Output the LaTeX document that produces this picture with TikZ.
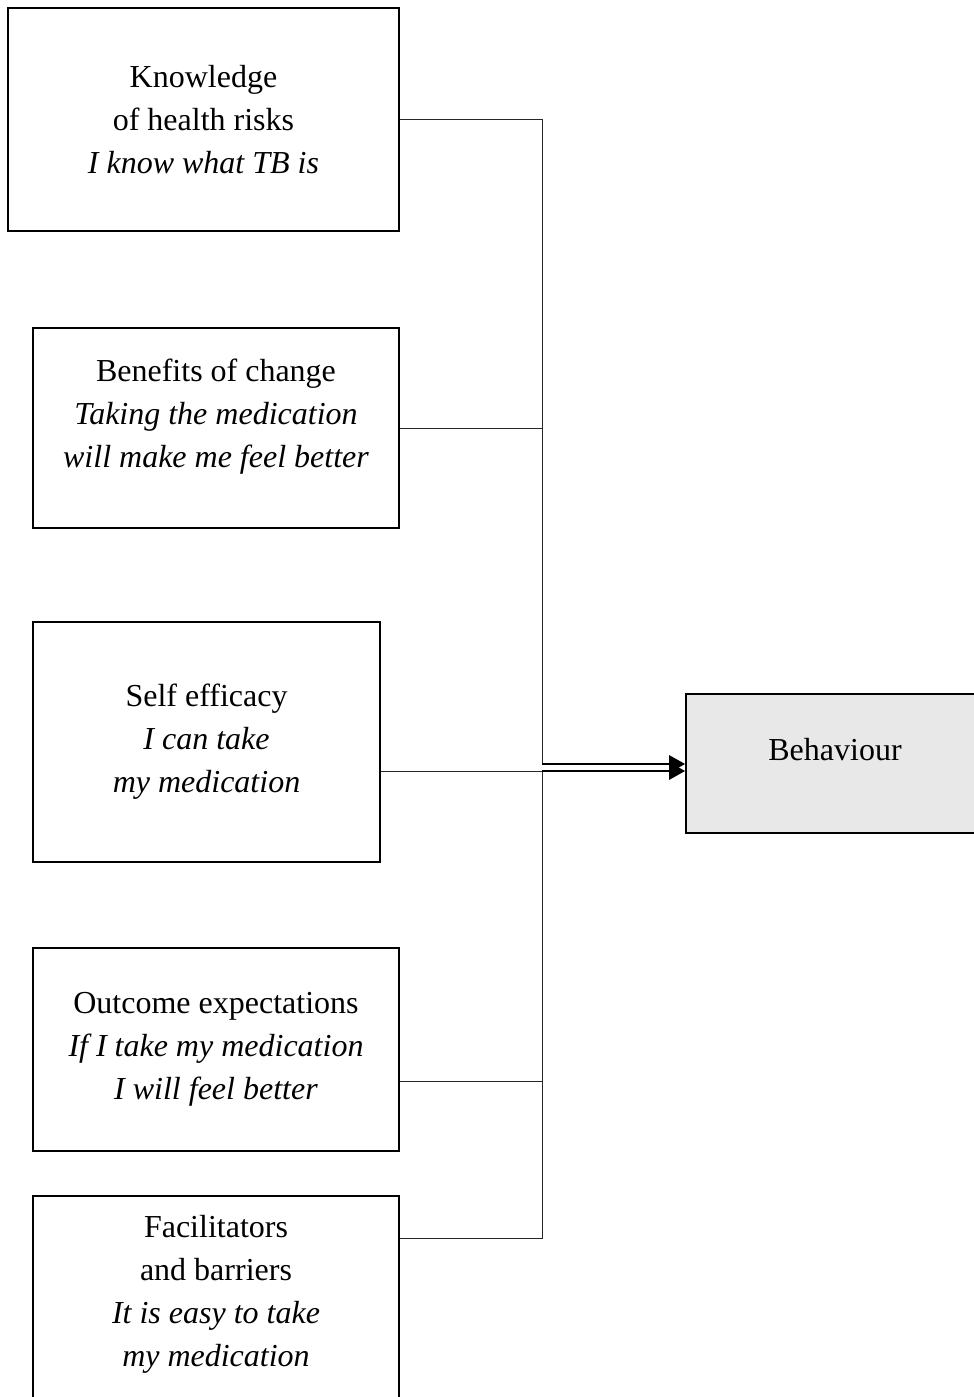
\documentclass[tikz,border=0pt]{standalone}
\usepackage{fontspec}
\setmainfont{Liberation Serif}
\usetikzlibrary{arrows.meta}
\begin{document}
\begin{tikzpicture}[x=1pt,y=-1pt,
  txt/.style={align=center, inner sep=0pt, font=\fontsize{32}{43}\selectfont},
  box/.style={draw, line width=1.6pt, txt},
  link/.style={line width=1pt, draw=black!85},
  arr/.style={line width=2.6pt, -{Triangle[length=16pt,width=17pt]}}]
\useasboundingbox (0,0) rectangle (974,1397);
\node[box, minimum width=391pt, minimum height=223pt] (k) at (203.5,119.5)
  {Knowledge\\of health risks\\\textit{I know what TB is}};
\node[box, minimum width=366pt, minimum height=200pt,
  label={[txt, yshift=11pt]center:{Benefits of change\\\textit{Taking the medication}\\\textit{will make me feel better}}}]
  (ben) at (216,428) {};
\node[box, minimum width=347pt, minimum height=240pt] (se) at (206.5,742)
  {Self efficacy\\\textit{I can take}\\\textit{my medication}};
\node[box, minimum width=366pt, minimum height=203pt] (oe) at (216,1049.5)
  {Outcome expectations\\\textit{If I take my medication}\\\textit{I will feel better}};
\node[box, minimum width=366pt, minimum height=206pt,
  label={[txt, yshift=5pt]center:{Facilitators\\and barriers\\\textit{It is easy to take}\\\textit{my medication}}}]
  (fb) at (216,1299) {};
\node[box, fill={rgb,255:red,232;green,232;blue,232}, minimum width=298pt, minimum height=139pt,
  text height=22pt, text depth=28pt] (b) at (835,763.5) {Behaviour};
\coordinate (j1) at (542,119.5);
\coordinate (ta) at (542,764);
\coordinate (tb) at (542,771);
\coordinate (j4) at (542,1081);
\coordinate (j5) at (542,1238);
\draw[link] (k.east) -- (j1) -- (ta);
\draw[link] (ben.east) -- (ben.east -| ta);
\draw[link] (se.east |- tb) -- (tb);
\draw[link] (oe.east |- j4) -- (j4);
\draw[link] (fb.east |- j5) -- (j5) -- (tb);
\draw[arr] (ta) -- (b.west |- ta);
\draw[arr] (tb) -- (b.west |- tb);
\end{tikzpicture}
\end{document}
